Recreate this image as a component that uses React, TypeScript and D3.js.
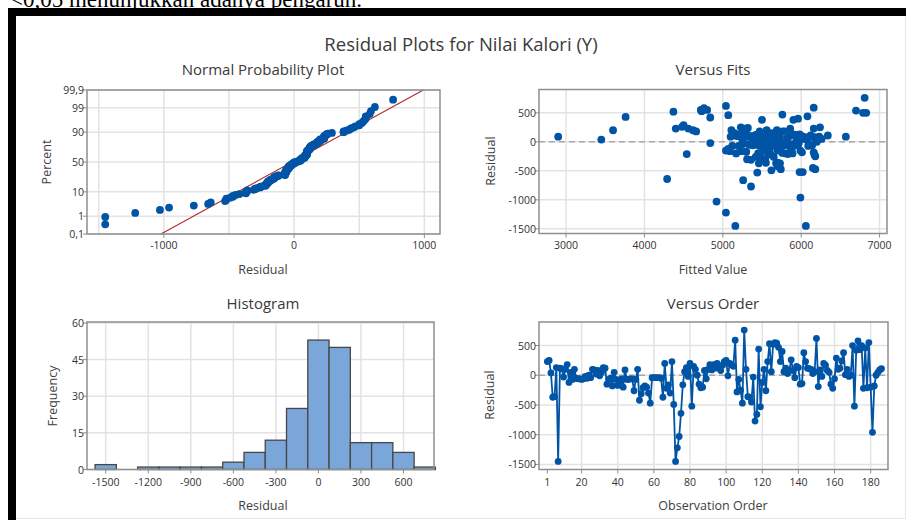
import React from 'react';
import * as d3 from 'd3';

// residuals in observation order
const residuals = [
  230, 250, 40, -370, -360, 130, -1450, 120, 110, -30,
  100, 180, -120, 50, -70, 100, -50, -60, -60, -70,
  -60, -20, -50, 0, -40, 100, 90, 20, 80, -10,
  50, 130, 120, -150, -70, -50, -180, 50, -70, -170,
  -130, -60, -200, 90, -70, -70, -60, -60, -260, -70,
  100, -420, -310, -210, -180, -200, -300, -470, -40, -40,
  -40, -40, -40, -50, -370, 200, -220, -160, -300, 230,
  -490, -1450, -1220, -1030, -640, -160, 60, 130, -20, 200,
  -520, 150, 100, 0, -150, -210, -200, 80, -60, 100,
  180, 90, 180, 120, 200, 150, 80, 170, 230, 250,
  -10, 200, 180, 150, 590, -280, -70, -250, -470, 760,
  100, -360, -370, -450, -30, -770, -660, 440, -530, -120,
  100, -260, 230, 530, 60, 520, 550, 540, 470, 230,
  400, 60, 120, 30, 80, 260, 80, -40, 150, 130,
  -150, -140, 380, 230, 120, 110, 100, 30, 60, 620,
  -190, 90, -20, 200, 170, 80, 50, -150, -220, -60,
  290, 100, 120, 240, 380, 10, 100, -20, 0, 500,
  -520, 420, 580, 430, 500, -220, 460, -210, 550, -200,
  -960, -180, 0, 50, 90, 110,
];

// fitted values, same order
const fitted = [
  4400, 5230, 3450, 5680, 5700, 5450, 5160, 5620, 5310, 5780,
  5500, 4660, 5880, 5390, 5620, 5190, 5720, 5540, 5950, 5470,
  5830, 5600, 5350, 5710, 5250, 5850, 2900, 5580, 6050, 5420,
  5650, 5900, 5280, 5520, 5760, 5410, 6160, 5690, 5120, 5300,
  5870, 5560, 5800, 6570, 5200, 5640, 5960, 5480, 5420, 5740,
  5560, 5700, 5360, 5580, 6010, 5450, 5310, 5740, 5660, 5520,
  5900, 5330, 6100, 5770, 5460, 3600, 5610, 5230, 5540, 4560,
  5620, 6060, 5040, 4920, 4290, 5090, 5820, 5980, 4840, 4620,
  5980, 5700, 5180, 6200, 5040, 4540, 5890, 5600, 6140, 5350,
  5790, 6230, 5470, 5930, 5690, 5260, 6170, 5840, 5310, 6240,
  5630, 5560, 5760, 5150, 6160, 5470, 6090, 6180, 6180, 6810,
  5380, 5550, 5730, 6150, 5500, 5360, 5260, 6080, 5440, 5070,
  6010, 5650, 6160, 4730, 5940, 4370, 4720, 6700, 5760, 5280,
  5960, 5490, 5150, 6080, 5730, 4480, 5370, 5870, 5620, 5210,
  5990, 5550, 5500, 5860, 5420, 6120, 5660, 5250, 6180, 5040,
  5760, 5300, 5580, 5110, 5820, 5440, 6040, 5700, 6170, 5380,
  4500, 5600, 5900, 5320, 5900, 5660, 5220, 5970, 5510, 6830,
  6020, 4840, 4760, 3760, 6790, 5480, 5070, 5830, 4800, 5170,
  5990, 5600, 5440, 6260, 5100, 6340,
];

const pctTicks = [0.1, 1, 10, 50, 90, 99, 99.9];
const pctLabels = ['0,1', '1', '10', '50', '90', '99', '99,9'];
const normXTicks = [-1000, 0, 1000];
const normXGrid = [-1500, -1000, -500, 0, 500, 1000];
const residTicks = [500, 0, -500, -1000, -1500];
const fitsXTicks = [3000, 4000, 5000, 6000, 7000];
const histXTicks = [-1500, -1200, -900, -600, -300, 0, 300, 600];
const histYTicks = [0, 15, 30, 45, 60];
const binEdges = [-1575, -1425, -1275, -1125, -975, -825, -675, -525, -375, -225, -75, 75, 225, 375, 525, 675, 825];
const orderXTicks = [1, 20, 40, 60, 80, 100, 120, 140, 160, 180];

const FONT = "'Open Sans', 'Noto Sans', sans-serif";
const INK = '#333333';
const GRID = '#e3e3e3';
const FRAME = '#8e8e8e';
const BLUE = '#0054a6';

// inverse standard normal cdf (Acklam)
function qnorm(p: number): number {
  const a = [-39.69683028665376, 220.9460984245205, -275.9285104469687, 138.357751867269, -30.66479806614716, 2.506628277459239];
  const b = [-54.47609879822406, 161.5858368580409, -155.6989798598866, 66.80131188771972, -13.28068155288572];
  const c = [-0.007784894002430293, -0.3223964580411365, -2.400758277161838, -2.549732539343734, 4.374664141464968, 2.938163982698783];
  const d = [0.007784695709041462, 0.3224671290700398, 2.445134137142996, 3.754408661907416];
  const pl = 0.02425;
  if (p < pl) {
    const q = Math.sqrt(-2 * Math.log(p));
    return (((((c[0] * q + c[1]) * q + c[2]) * q + c[3]) * q + c[4]) * q + c[5]) / ((((d[0] * q + d[1]) * q + d[2]) * q + d[3]) * q + 1);
  }
  if (p > 1 - pl) {
    const q = Math.sqrt(-2 * Math.log(1 - p));
    return -(((((c[0] * q + c[1]) * q + c[2]) * q + c[3]) * q + c[4]) * q + c[5]) / ((((d[0] * q + d[1]) * q + d[2]) * q + d[3]) * q + 1);
  }
  const q = p - 0.5, r = q * q;
  return (((((a[0] * r + a[1]) * r + a[2]) * r + a[3]) * r + a[4]) * r + a[5]) * q / (((((b[0] * r + b[1]) * r + b[2]) * r + b[3]) * r + b[4]) * r + 1);
}

type Box = { x0: number; x1: number; y0: number; y1: number };

const Frame = ({ b }: { b: Box }) => (
  <rect x={b.x0} y={b.y0} width={b.x1 - b.x0} height={b.y1 - b.y0} fill="none" stroke={FRAME} strokeWidth={1.5} />
);

const VGrid = ({ b, xs }: { b: Box; xs: number[] }) => (
  <g>{xs.map((x, i) => <line key={i} x1={x} x2={x} y1={b.y0} y2={b.y1} stroke={GRID} strokeWidth={1.5} />)}</g>
);
const HGrid = ({ b, ys }: { b: Box; ys: number[] }) => (
  <g>{ys.map((y, i) => <line key={i} x1={b.x0} x2={b.x1} y1={y} y2={y} stroke={GRID} strokeWidth={1.5} />)}</g>
);

const XTicks = ({ b, xs, labels, ly }: { b: Box; xs: number[]; labels: string[]; ly: number }) => (
  <g>
    {xs.map((x, i) => (
      <g key={i}>
        <line x1={x} x2={x} y1={b.y1} y2={b.y1 + 4} stroke={FRAME} strokeWidth={1} />
        <text x={x} y={ly} textAnchor="middle" dominantBaseline="central" fontSize={10.5} fill={INK} fontFamily={FONT}>{labels[i]}</text>
      </g>
    ))}
  </g>
);
const YTicks = ({ b, ys, labels }: { b: Box; ys: number[]; labels: string[] }) => (
  <g>
    {ys.map((y, i) => (
      <g key={i}>
        <line x1={b.x0 - 4} x2={b.x0} y1={y} y2={y} stroke={FRAME} strokeWidth={1} />
        <text x={b.x0 - 3} y={y} textAnchor="end" dominantBaseline="central" fontSize={10.5} fill={INK} fontFamily={FONT}>{labels[i]}</text>
      </g>
    ))}
  </g>
);

const Title = ({ x, y, t }: { x: number; y: number; t: string }) => (
  <text x={x} y={y} textAnchor="middle" dominantBaseline="central" fontSize={15} fontWeight={500} fill="#3a3a3a" fontFamily={FONT}>{t}</text>
);
const Label = ({ x, y, t, rot }: { x: number; y: number; t: string; rot?: boolean }) => (
  <text x={x} y={y} textAnchor="middle" dominantBaseline="central" fontSize={12.5} fill="#404040" fontFamily={FONT}
    transform={rot ? `rotate(-90 ${x} ${y})` : undefined}>{t}</text>
);

const App = () => {
  const n = residuals.length;

  // normal probability plot
  const b1: Box = { x0: 87, x1: 440, y0: 90, y1: 234 };
  const nX = d3.scaleLinear().domain([-1590, 1120]).range([b1.x0, b1.x1]);
  const zMax = qnorm(0.999);
  const nY = d3.scaleLinear().domain([-zMax, zMax]).range([b1.y1, b1.y0]);
  const sorted = residuals.slice().sort(d3.ascending);
  const probPts = sorted.map((r, i) => ({ r, z: qnorm((i + 1 - 0.3) / (n + 0.4)) }));
  const mu = d3.mean(residuals) as number;
  const sd = d3.deviation(residuals) as number;

  // versus fits
  const b2: Box = { x0: 539, x1: 887, y0: 89.5, y1: 233.5 };
  const fX = d3.scaleLinear().domain([2655, 7095]).range([b2.x0, b2.x1]);
  const fY = d3.scaleLinear().domain([-1580, 903]).range([b2.y1, b2.y0]);

  // histogram
  const b3: Box = { x0: 87, x1: 434, y0: 322, y1: 469.5 };
  const hX = d3.scaleLinear().domain([-1632, 815]).range([b3.x0, b3.x1]);
  const hY = d3.scaleLinear().domain([0, 60.4]).range([b3.y1, b3.y0]);
  const bins = d3.bin().domain([binEdges[0], binEdges[binEdges.length - 1]]).thresholds(binEdges.slice(1, -1))(residuals);

  // versus order
  const b4: Box = { x0: 539, x1: 888, y0: 322, y1: 469.5 };
  const oX = d3.scaleLinear().domain([-3.6, 189.6]).range([b4.x0, b4.x1]);
  const oY = d3.scaleLinear().domain([-1585, 896]).range([b4.y1, b4.y0]);
  const orderLine = d3.line<number>().x((_, i) => oX(i + 1)).y(r => oY(r));

  return (
    <svg width={906} height={520} style={{ position: 'absolute', left: 0, top: 0, background: '#fff' }}>
      <rect x={0} y={0} width={906} height={520} fill="#fff" />
      <text x={10} y={7} fontSize={23} fontFamily="'Liberation Serif', 'Times New Roman', serif" fill="#000">&lt;0,05 menunjukkan adanya pengaruh.</text>
      <rect x={8} y={8} width={898} height={8} fill="#000" />
      <rect x={8} y={8} width={8} height={512} fill="#000" />
      <line x1={905.5} x2={905.5} y1={16} y2={518} stroke="#e6e6e6" />
      <line x1={16} x2={906} y1={518.5} y2={518.5} stroke="#e6e6e6" />

      <text x={461} y={43} textAnchor="middle" dominantBaseline="central" fontSize={18.5} fontWeight={500} fill="#3a3a3a" fontFamily={FONT}>Residual Plots for Nilai Kalori (Y)</text>

      {/* Normal Probability Plot */}
      <Title x={263} y={69} t="Normal Probability Plot" />
      <VGrid b={b1} xs={normXGrid.map(nX)} />
      <HGrid b={b1} ys={pctTicks.map(p => nY(qnorm(p / 100)))} />
      <line x1={nX(mu - sd * zMax)} y1={nY(-zMax)} x2={nX(mu + sd * zMax)} y2={nY(zMax)} stroke="#b22a2a" strokeWidth={1.1} />
      {probPts.map((p, i) => <circle key={i} cx={nX(p.r)} cy={nY(p.z)} r={3.9} fill={BLUE} />)}
      <Frame b={b1} />
      <XTicks b={b1} xs={normXTicks.map(nX)} labels={normXTicks.map(String)} ly={245} />
      <YTicks b={b1} ys={pctTicks.map(p => nY(qnorm(p / 100)))} labels={pctLabels} />
      <Label x={46} y={162} t="Percent" rot />
      <Label x={263} y={269} t="Residual" />

      {/* Versus Fits */}
      <Title x={713} y={69} t="Versus Fits" />
      <VGrid b={b2} xs={fitsXTicks.map(fX)} />
      <HGrid b={b2} ys={residTicks.map(fY)} />
      <line x1={b2.x0} x2={b2.x1} y1={fY(0)} y2={fY(0)} stroke="#a8a8a8" strokeWidth={1.5} strokeDasharray="6,4" />
      {residuals.map((r, i) => <circle key={i} cx={fX(fitted[i])} cy={fY(r)} r={3.9} fill={BLUE} />)}
      <Frame b={b2} />
      <XTicks b={b2} xs={fitsXTicks.map(fX)} labels={fitsXTicks.map(String)} ly={245} />
      <YTicks b={b2} ys={residTicks.map(fY)} labels={residTicks.map(String)} />
      <Label x={490} y={161} t="Residual" rot />
      <Label x={713} y={269} t="Fitted Value" />

      {/* Histogram */}
      <Title x={263} y={303} t="Histogram" />
      <VGrid b={b3} xs={histXTicks.map(hX)} />
      <HGrid b={b3} ys={histYTicks.map(hY)} />
      {bins.filter(bn => bn.length > 0).map((bn, i) => (
        <rect key={i} x={hX(bn.x0 as number)} y={hY(bn.length)} width={hX(bn.x1 as number) - hX(bn.x0 as number)}
          height={hY(0) - hY(bn.length)} fill="#7ba6d9" stroke="#474747" strokeWidth={1.3} />
      ))}
      <Frame b={b3} />
      <XTicks b={b3} xs={histXTicks.map(hX)} labels={histXTicks.map(String)} ly={481.5} />
      <YTicks b={b3} ys={histYTicks.map(hY)} labels={histYTicks.map(String)} />
      <Label x={52} y={396} t="Frequency" rot />
      <Label x={263} y={505} t="Residual" />

      {/* Versus Order */}
      <Title x={713} y={303} t="Versus Order" />
      <VGrid b={b4} xs={orderXTicks.slice(1).map(oX)} />
      <HGrid b={b4} ys={residTicks.map(oY)} />
      <line x1={b4.x0} x2={b4.x1} y1={oY(0)} y2={oY(0)} stroke="#a8a8a8" strokeWidth={1.5} strokeDasharray="6,4" />
      <path d={orderLine(residuals) || ''} fill="none" stroke={BLUE} strokeWidth={1.8} />
      {residuals.map((r, i) => <circle key={i} cx={oX(i + 1)} cy={oY(r)} r={3.4} fill={BLUE} />)}
      <Frame b={b4} />
      <XTicks b={b4} xs={orderXTicks.map(oX)} labels={orderXTicks.map(String)} ly={481.5} />
      <YTicks b={b4} ys={residTicks.map(oY)} labels={residTicks.map(String)} />
      <Label x={489} y={395} t="Residual" rot />
      <Label x={713} y={505} t="Observation Order" />
    </svg>
  );
};

export default App;
